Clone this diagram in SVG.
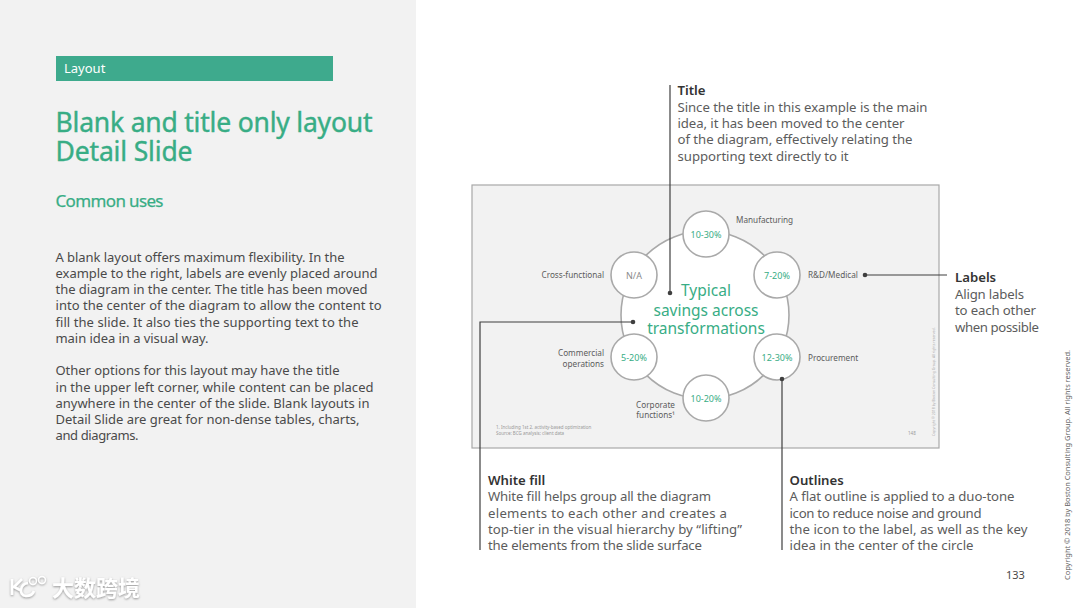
<svg xmlns="http://www.w3.org/2000/svg" width="1080" height="608" viewBox="0 0 1080 608">
<style>
text{font-family:"Noto Sans","Liberation Sans",sans-serif}
.b{font-size:13px;fill:#4a4a4a}
.c{font-size:13.2px;fill:#5c5c5c}
.h{font-size:13.2px;fill:#333;font-weight:600}
.g{fill:#38ad85}
.l{font-size:8.2px;fill:#5c5c5c}
.p{font-size:9px;fill:#38ad85;text-anchor:middle}
.node{fill:#fff;stroke:#a9a9a9;stroke-width:1.6}
.conn{fill:none;stroke:#3f3f3f;stroke-width:1.2}
.dot{fill:#3f3f3f}
</style>
<defs><filter id="s" x="-10%" y="-20%" width="120%" height="140%"><feDropShadow dx="0" dy="1" stdDeviation="1.2" flood-color="#777" flood-opacity=".75"/></filter></defs>
<rect width="1080" height="608" fill="#fff"/>
<rect width="416" height="608" fill="#f2f2f2"/>
<g id="left-panel">
<rect x="56" y="56" width="277" height="25" fill="#3eaa8d"/>
<text x="64" y="73" font-size="13" fill="#fff">Layout</text>
<text class="g" font-size="26.500" stroke="#38ad85" stroke-width=".4"><tspan x="55.500" y="132" textLength="317">Blank and title only layout</tspan><tspan x="55.500" y="161" textLength="137">Detail Slide</tspan></text>
<text class="g" x="55.500" y="207" font-size="17" textLength="108" stroke="#38ad85" stroke-width=".25">Common uses</text>
<g class="b">
<text x="55.500" y="262" textLength="289">A blank layout offers maximum flexibility. In the</text>
<text x="55.500" y="278" textLength="322">example to the right, labels are evenly placed around</text>
<text x="55.500" y="294" textLength="312">the diagram in the center. The title has been moved</text>
<text x="55.500" y="310" textLength="326">into the center of the diagram to allow the content to</text>
<text x="55.500" y="327" textLength="303">fill the slide. It also ties the supporting text to the</text>
<text x="55.500" y="343" textLength="153">main idea in a visual way.</text>
<text x="55.500" y="375" textLength="284">Other options for this layout may have the title</text>
<text x="55.500" y="392" textLength="318">in the upper left corner, while content can be placed</text>
<text x="55.500" y="408" textLength="314">anywhere in the center of the slide. Blank layouts in</text>
<text x="55.500" y="424" textLength="304">Detail Slide are great for non-dense tables, charts,</text>
<text x="55.500" y="440" textLength="83">and diagrams.</text>
</g>
</g>
<g id="example-slide">
<rect x="472" y="185" width="467" height="263" fill="#f2f2f2" stroke="#a8a8a8" stroke-width="1.200"/>
<text x="496" y="429" font-size="4.500" fill="#999">1. Including 1st 2. activity-based optimization</text>
<text x="496" y="435" font-size="4.500" fill="#999">Source: BCG analysis; client data</text>
<text x="908" y="435" font-size="4.500" fill="#999">148</text>
<text transform="translate(935,436) rotate(-90)" font-size="3.500" fill="#aaa">Copyright © 2018 by Boston Consulting Group. All rights reserved.</text>
</g>
<g id="center-circle">
<circle class="node" cx="705" cy="315" r="84"/>
<text class="g" text-anchor="middle" font-size="15.500"><tspan x="706" y="296">Typical</tspan><tspan x="706" y="316">savings across</tspan><tspan x="706" y="334">transformations</tspan></text>
</g>
<g id="node-manufacturing"><circle class="node" cx="706" cy="234" r="23"/><text class="p" x="706" y="238">10-30%</text><text class="l" x="736" y="223">Manufacturing</text></g>
<g id="node-rd"><circle class="node" cx="777" cy="275" r="23"/><text class="p" x="777" y="279">7-20%</text><text class="l" x="808" y="278">R&amp;D/Medical</text></g>
<g id="node-procurement"><circle class="node" cx="777" cy="357" r="23"/><text class="p" x="777" y="361">12-30%</text><text class="l" x="808" y="361">Procurement</text></g>
<g id="node-corporate"><circle class="node" cx="706" cy="398" r="23"/><text class="p" x="706" y="402">10-20%</text><text class="l" x="675" y="408" text-anchor="end">Corporate</text><text class="l" x="675" y="418" text-anchor="end">functions¹</text></g>
<g id="node-commercial"><circle class="node" cx="634" cy="357" r="23"/><text class="p" x="634" y="361">5-20%</text><text class="l" x="604" y="356" text-anchor="end">Commercial</text><text class="l" x="604" y="367" text-anchor="end">operations</text></g>
<g id="node-cross"><circle class="node" cx="634" cy="275" r="23"/><text class="p" x="634" y="279" style="fill:#8a8a8a">N/A</text><text class="l" x="604" y="278" text-anchor="end">Cross-functional</text></g>
<g id="connectors">
<path class="conn" d="M670 85V293"/><circle class="dot" cx="670" cy="293" r="2.300"/>
<path class="conn" d="M947 275H865"/><circle class="dot" cx="865" cy="275" r="2.300"/>
<path class="conn" d="M480 550V322H633"/><circle class="dot" cx="633" cy="322" r="2.300"/>
<path class="conn" d="M782 550V379"/><circle class="dot" cx="782" cy="379" r="2.300"/>
</g>
<g id="label-title">
<text class="h" x="677.500" y="95">Title</text>
<g class="c">
<text x="677.500" y="112" textLength="250">Since the title in this example is the main</text>
<text x="677.500" y="128" textLength="227">idea, it has been moved to the center</text>
<text x="677.500" y="144" textLength="235">of the diagram, effectively relating the</text>
<text x="677.500" y="161" textLength="171">supporting text directly to it</text>
</g></g>
<g id="label-labels">
<text class="h" x="955" y="282">Labels</text>
<g class="c">
<text x="955" y="299" textLength="69">Align labels</text>
<text x="955" y="315" textLength="81">to each other</text>
<text x="955" y="332" textLength="84">when possible</text>
</g></g>
<g id="label-white">
<text class="h" x="488" y="485">White fill</text>
<g class="c">
<text x="488" y="501" textLength="223">White fill helps group all the diagram</text>
<text x="488" y="518" textLength="239">elements to each other and creates a</text>
<text x="488" y="534" textLength="254">top-tier in the visual hierarchy by “lifting”</text>
<text x="488" y="550" textLength="214">the elements from the slide surface</text>
</g></g>
<g id="label-outlines">
<text class="h" x="789.500" y="485">Outlines</text>
<g class="c">
<text x="789.500" y="501" textLength="225">A flat outline is applied to a duo-tone</text>
<text x="789.500" y="518" textLength="192">icon to reduce noise and ground</text>
<text x="789.500" y="534" textLength="238">the icon to the label, as well as the key</text>
<text x="789.500" y="550" textLength="184">idea in the center of the circle</text>
</g></g>
<text x="1006" y="579" font-size="11" fill="#4a4a4a">133</text>
<text transform="translate(1070,580) rotate(-90)" font-size="7.500" fill="#666" textLength="230">Copyright © 2018 by Boston Consulting Group. All rights reserved.</text>
<g id="watermark" filter="url(#s)">
<path d="M12 579V595M22 579L14 587L20 590M28 583C20 584 18 595 26 596C30 596 33 594 34 591" fill="none" stroke="#fff" stroke-width="2.600"/>
<circle cx="33" cy="581" r="3.500" fill="none" stroke="#fff" stroke-width="1.400"/>
<circle cx="42" cy="580" r="3.500" fill="none" stroke="#fff" stroke-width="1.400"/>
<text x="52" y="596" font-size="22" font-weight="700" fill="#fff" style="font-family:'Noto Sans CJK SC',sans-serif" textLength="88">大数跨境</text>
</g>
</svg>
